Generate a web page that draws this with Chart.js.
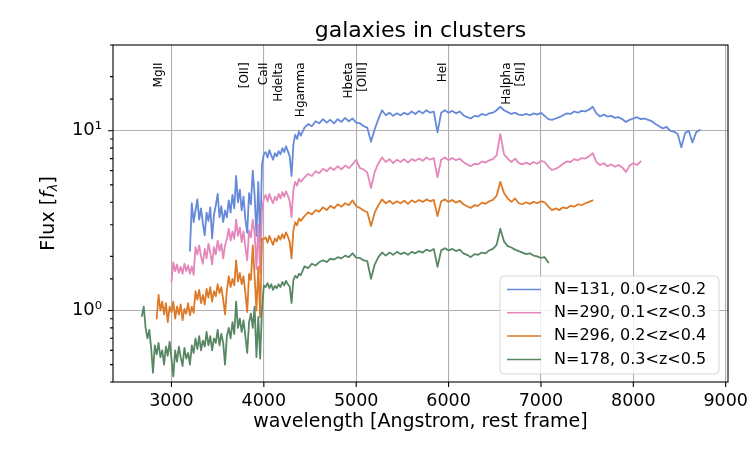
<!DOCTYPE html>
<html><head><meta charset="utf-8">
<script src="https://cdn.jsdelivr.net/npm/chart.js@4"></script>
<style>html,body{margin:0;padding:0;background:#fff;}canvas{display:block;}</style>
</head><body>
<canvas id="c" width="750" height="450"></canvas>
<script>
// ---- data (rest-frame wavelength grid, Angstrom) ----
const wavelength = [
 2660,2680,2700,2720,2740,2760,2780,2800,2820,2840,
 2860,2880,2900,2920,2940,2960,2980,3000,3020,3040,
 3060,3080,3100,3120,3140,3160,3180,3200,3220,3240,
 3260,3280,3300,3320,3340,3360,3380,3400,3420,3440,
 3460,3480,3500,3520,3540,3560,3580,3600,3620,3640,
 3660,3680,3700,3720,3740,3760,3780,3800,3820,3840,
 3860,3880,3900,3920,3940,3960,3980,4000,4020,4040,
 4060,4080,4100,4120,4140,4160,4180,4200,4220,4240,
 4260,4280,4300,4320,4340,4360,4380,4400,
 4440,4480,4520,4560,4600,4640,4680,4720,4760,4800,
 4840,4880,4920,4960,5000,5040,5080,5120,5160,5200,
 5240,5280,5320,5360,5400,5440,5480,5520,5560,5600,
 5640,5680,5720,5760,5800,5840,5880,5920,5960,6000,
 6040,6080,6120,6160,6200,6240,6280,6320,6360,6400,
 6440,6480,6520,6560,6600,6640,6680,6720,6760,6800,
 6840,6880,6920,6960,7000,7040,7080,7120,7160,7200,
 7240,7280,7320,7360,7400,7440,7480,7520,7560,7600,
 7640,7680,7720,7760,7800,7840,7880,7920,7960,8000,
 8040,8080,8120,8160,8200,8240,8280,8320,8360,8400,
 8440,8480,8520,8560,8600,8640,8680,8720
];

// N=131, 0.0<z<0.2
const fluxN131 = [
 null,null,null,null,null,null,null,null,null,null,
 null,null,null,null,null,null,null,null,null,null,
 null,null,null,null,null,null,null,2.15,3.95,3.10,
 3.60,4.15,3.20,3.70,3.05,2.62,3.50,3.15,3.75,2.52,
 3.40,3.85,4.45,3.30,3.80,3.10,3.60,3.30,4.10,3.50,
 4.40,3.70,5.60,4.00,4.70,3.60,4.30,3.20,2.70,4.50,
 3.90,6.00,4.40,2.60,5.20,2.40,6.50,7.40,7.60,7.10,
 7.80,7.30,6.90,7.50,7.20,7.70,7.40,8.00,7.60,8.20,
 7.70,7.20,5.60,8.40,9.50,9.00,9.90,9.40,
 10.4,10.9,10.6,11.3,11.0,11.6,11.1,11.5,11.0,11.6,
 11.2,11.8,11.3,11.7,11.1,11.0,10.6,10.4,8.7,10.2,
 11.6,13.0,12.2,12.6,12.1,12.5,12.2,12.6,12.3,12.8,
 12.4,12.9,12.5,13.0,12.6,12.8,9.8,12.6,13.0,12.6,
 12.9,12.5,12.8,12.2,11.9,11.7,12.1,12.0,12.4,12.2,
 12.5,12.6,13.0,13.6,13.0,12.7,12.4,12.6,12.3,12.2,
 12.4,12.2,12.5,12.3,12.6,12.1,11.6,11.5,11.7,11.9,
 12.2,12.5,12.4,12.8,12.6,12.9,12.8,13.1,13.6,12.5,
 12.0,12.3,12.0,12.1,11.8,11.9,11.6,11.2,11.5,11.7,
 11.9,11.6,11.7,11.5,11.3,10.9,10.6,10.3,10.5,10.0,
 9.9,9.6,8.1,9.7,10.0,8.6,9.8,10.1
];

// N=290, 0.1<z<0.3
const fluxN290 = [
 null,null,null,null,null,null,null,null,null,null,
 null,null,null,null,null,null,null,1.45,1.85,1.65,
 1.80,1.62,1.75,1.60,1.82,1.66,1.78,1.60,1.76,1.58,
 2.25,2.05,2.30,2.00,1.82,2.20,1.95,2.35,2.10,1.80,
 2.25,2.05,2.45,2.15,2.35,1.95,2.30,2.50,2.85,2.45,
 2.75,2.50,3.20,2.60,2.90,2.40,2.75,2.25,1.90,2.80,
 2.55,3.20,2.70,1.70,3.00,1.60,3.60,4.20,4.40,4.05,
 4.45,4.15,3.95,4.30,4.10,4.45,4.20,4.55,4.30,4.60,
 4.35,4.05,3.30,4.70,5.20,4.95,5.40,5.20,
 5.50,5.75,5.60,5.95,5.80,6.15,5.95,6.25,6.05,6.35,
 6.10,6.40,6.20,6.50,6.90,6.20,6.10,5.85,4.80,5.90,
 6.60,7.10,6.70,6.95,6.60,6.90,6.70,6.95,6.65,6.95,
 6.80,7.00,6.80,7.10,6.90,7.05,5.50,6.90,7.10,6.85,
 7.05,6.85,7.00,6.70,6.50,6.35,6.55,6.50,6.75,6.65,
 6.85,6.95,7.30,9.60,7.40,7.00,6.70,7.00,6.60,6.50,
 6.65,6.50,6.70,6.55,6.80,6.70,6.30,6.05,6.15,6.30,
 6.55,6.75,6.70,6.95,6.85,7.05,7.00,7.20,7.50,6.70,
 6.45,6.60,6.35,6.50,6.30,6.45,6.25,5.90,6.40,6.60,
 6.45,6.75
];

// N=296, 0.2<z<0.4
const fluxN296 = [
 null,null,null,null,null,null,null,null,null,0.90,
 1.22,1.00,1.12,0.95,1.10,0.86,1.05,0.98,1.12,0.90,
 1.05,0.95,1.08,0.88,1.02,0.96,1.10,0.94,1.05,0.97,
 1.28,1.15,1.30,1.10,1.22,1.08,1.32,1.18,1.35,1.12,
 1.28,1.20,1.40,1.25,1.35,1.15,0.95,1.30,1.55,1.35,
 1.50,1.38,1.90,1.45,1.62,1.40,1.55,1.25,0.98,1.60,
 1.48,2.30,1.55,1.00,1.75,0.92,2.50,2.50,2.55,2.38,
 2.60,2.45,2.32,2.52,2.42,2.60,2.48,2.66,2.52,2.72,
 2.58,2.40,1.95,2.80,3.10,2.98,3.25,3.15,
 3.35,3.52,3.42,3.62,3.55,3.75,3.62,3.82,3.70,3.90,
 3.78,3.95,3.85,4.10,3.80,3.72,3.60,3.52,2.95,3.50,
 3.85,4.15,3.95,4.08,3.92,4.05,3.95,4.08,3.92,4.10,
 4.00,4.12,4.02,4.15,4.05,4.12,3.35,4.05,4.15,4.02,
 4.12,3.98,4.08,3.90,3.80,3.72,3.85,3.82,3.98,3.92,
 4.05,4.12,4.35,5.20,4.50,4.20,4.02,4.20,3.95,3.90,
 4.00,3.92,4.02,3.95,4.05,4.00,3.78,3.62,3.70,3.62,
 3.75,3.70,3.82,3.78,3.90,3.85,3.95,4.02,4.10
];

// N=178, 0.3<z<0.5
const fluxN178 = [
 null,0.93,1.05,0.80,0.70,0.78,0.62,0.45,0.64,0.57,
 0.66,0.55,0.60,0.50,0.63,0.56,0.67,0.54,0.43,0.60,
 0.52,0.63,0.55,0.49,0.62,0.54,0.58,0.50,0.64,0.58,
 0.70,0.61,0.72,0.60,0.68,0.63,0.76,0.64,0.72,0.60,
 0.70,0.66,0.78,0.64,0.74,0.66,0.50,0.72,0.80,0.70,
 0.86,0.74,1.12,0.80,0.90,0.76,0.88,0.72,0.58,0.86,
 0.96,0.80,1.05,0.55,0.92,0.54,1.02,1.38,1.35,1.42,
 1.33,1.40,1.30,1.37,1.33,1.40,1.35,1.44,1.38,1.46,
 1.40,1.36,1.10,1.48,1.56,1.52,1.60,1.57,
 1.76,1.72,1.82,1.78,1.86,1.90,1.86,1.94,1.92,1.98,
 1.95,2.02,1.98,2.08,1.97,1.96,1.90,1.88,1.50,1.80,
 1.98,2.10,2.02,2.10,2.04,2.12,2.06,2.10,2.04,2.12,
 2.08,2.14,2.10,2.18,2.14,2.20,1.75,2.16,2.22,2.16,
 2.20,2.14,2.18,2.08,2.04,1.98,2.06,2.04,2.10,2.08,
 2.16,2.20,2.32,2.85,2.42,2.28,2.24,2.18,2.14,2.10,
 2.06,2.08,2.02,2.00,1.96,1.98,1.85
];

const seriesLabels = ['N=131, 0.0<z<0.2', 'N=290, 0.1<z<0.3', 'N=296, 0.2<z<0.4', 'N=178, 0.3<z<0.5'];
const seriesFlux = [fluxN131, fluxN290, fluxN296, fluxN178];
const seriesColors = ['#6689da', '#e487bb', '#dd7a28', '#588764'];

const xTickValues = [3000, 4000, 5000, 6000, 7000, 8000, 9000];
const yMajorTicks = [1, 10];
const yTickLabels = ['10\u2070', '10\u00b9'];

const featureNames = ['MgII', '[OII]', 'CaII', 'Hdelta', 'Hgamma', 'Hbeta', '[OIII]', 'HeI', 'Halpha', '[SII]'];
const featureWavelengths = [2800, 3727, 3934, 4102, 4340, 4861, 5007, 5876, 6563, 6717];
const featureLabelFlux = 24;

const chartTitle = 'galaxies in clusters';
const FONT = '"DejaVu Sans", "Liberation Sans", sans-serif';

// ---- build datasets ----
const datasets = seriesFlux.map((vals, k) => ({
  label: seriesLabels[k],
  data: wavelength.map((w, i) => ({ x: w, y: vals[i] })).filter(p => p.y !== null && p.y !== undefined),
  borderColor: seriesColors[k],
  backgroundColor: seriesColors[k],
  borderWidth: 1.8,
  borderJoinStyle: 'round',
  borderCapStyle: 'round',
  pointRadius: 0,
  tension: 0,
  fill: false,
  order: 4 - k
}));

const deco = {
  id: 'deco',
  afterDraw(chart) {
    const { ctx, chartArea: a, scales: { x, y } } = chart;
    ctx.save();
    // tick marks
    ctx.strokeStyle = '#000';
    ctx.lineWidth = 1.1;
    ctx.beginPath();
    x.ticks.forEach(t => {
      const px = x.getPixelForValue(t.value);
      ctx.moveTo(px, a.bottom); ctx.lineTo(px, a.bottom + 5);
    });
    y.ticks.forEach(t => {
      const py = y.getPixelForValue(t.value);
      const major = yMajorTicks.some(m => Math.abs(m - t.value) < 1e-9);
      ctx.moveTo(a.left, py); ctx.lineTo(a.left - (major ? 5 : 3), py);
    });
    ctx.stroke();
    // spines
    ctx.strokeRect(a.left, a.top, a.right - a.left, a.bottom - a.top);

    // title
    ctx.fillStyle = '#000';
    ctx.font = '22px ' + FONT;
    ctx.textAlign = 'center';
    ctx.textBaseline = 'alphabetic';
    ctx.fillText(chartTitle, (a.left + a.right) / 2, 36.5);

    // feature labels
    ctx.font = '12px ' + FONT;
    const ty = y.getPixelForValue(featureLabelFlux);
    featureNames.forEach((n, i) => {
      const px = x.getPixelForValue(featureWavelengths[i]);
      ctx.save();
      ctx.translate(px, ty);
      ctx.rotate(-Math.PI / 2);
      ctx.textAlign = 'right';
      ctx.textBaseline = 'top';
      ctx.fillText(n, 0, 0);
      ctx.restore();
    });

    // y axis title: Flux [f_lambda]
    const parts = [
      ['Flux [', '19px ' + FONT, 0],
      ['f', 'italic 19px ' + FONT, 0],
      ['\u03bb', 'italic 13px ' + FONT, 5],
      [']', '19px ' + FONT, 0]
    ];
    let total = 0;
    parts.forEach(p => { ctx.font = p[1]; total += ctx.measureText(p[0]).width; });
    ctx.save();
    ctx.translate(49, (a.top + a.bottom) / 2);
    ctx.rotate(-Math.PI / 2);
    ctx.textAlign = 'left';
    ctx.textBaseline = 'middle';
    let cx = -total / 2;
    parts.forEach(p => {
      ctx.font = p[1];
      ctx.fillText(p[0], cx, p[2]);
      cx += ctx.measureText(p[0]).width;
    });
    ctx.restore();

    // legend
    const lx = a.right - 228, ly = a.bottom - 106, lw = 219, lh = 98;
    ctx.beginPath();
    if (ctx.roundRect) ctx.roundRect(lx, ly, lw, lh, 4); else ctx.rect(lx, ly, lw, lh);
    ctx.fillStyle = 'rgba(255,255,255,0.8)';
    ctx.fill();
    ctx.strokeStyle = 'rgba(204,204,204,0.8)';
    ctx.lineWidth = 1;
    ctx.stroke();
    ctx.font = '16px ' + FONT;
    ctx.textAlign = 'left';
    ctx.textBaseline = 'middle';
    seriesLabels.forEach((lab, i) => {
      const cy = ly + 13.5 + i * 23.3;
      ctx.strokeStyle = seriesColors[i];
      ctx.lineWidth = 1.5;
      ctx.beginPath();
      ctx.moveTo(lx + 7, cy); ctx.lineTo(lx + 41, cy);
      ctx.stroke();
      ctx.fillStyle = '#000';
      ctx.fillText(lab, lx + 54, cy);
    });
    ctx.restore();
  }
};

new Chart(document.getElementById('c'), {
  type: 'line',
  data: { datasets },
  options: {
    responsive: false,
    animation: false,
    events: [],
    layout: { padding: { left: 0, right: 22, top: 45, bottom: 0 } },
    plugins: {
      legend: { display: false },
      tooltip: { enabled: false },
      title: { display: false }
    },
    scales: {
      x: {
        type: 'linear',
        min: 2367,
        max: 9025,
        afterFit(s) { s.height = 68; s.paddingLeft = 0; s.paddingRight = 0; },
        afterBuildTicks(s) { s.ticks = xTickValues.map(v => ({ value: v })); },
        ticks: {
          autoSkip: false, maxRotation: 0, includeBounds: false,
          color: '#000', padding: 9,
          font: { family: FONT, size: 17.5 },
          callback: v => String(v)
        },
        grid: { color: '#b0b0b0', lineWidth: 1.1, drawTicks: false },
        border: { display: false },
        title: {
          display: true,
          text: 'wavelength [Angstrom, rest frame]',
          color: '#000',
          font: { family: FONT, size: 19 },
          padding: { top: 0, bottom: 17 }
        }
      },
      y: {
        type: 'logarithmic',
        min: 0.4,
        max: 30,
        afterFit(s) { s.width = 113; s.paddingTop = 0; s.paddingBottom = 0; },
        ticks: {
          autoSkip: false, includeBounds: false,
          color: '#000', padding: 11,
          font: { family: FONT, size: 18 },
          callback: v => {
            const i = yMajorTicks.findIndex(m => Math.abs(m - v) < 1e-9);
            return i >= 0 ? yTickLabels[i] : '';
          }
        },
        grid: {
          color: c => (c.tick && yMajorTicks.some(m => Math.abs(m - c.tick.value) < 1e-9)) ? '#b0b0b0' : 'rgba(0,0,0,0)',
          lineWidth: 1.1,
          drawTicks: false
        },
        border: { display: false }
      }
    }
  },
  plugins: [deco]
});
</script>
</body></html>
